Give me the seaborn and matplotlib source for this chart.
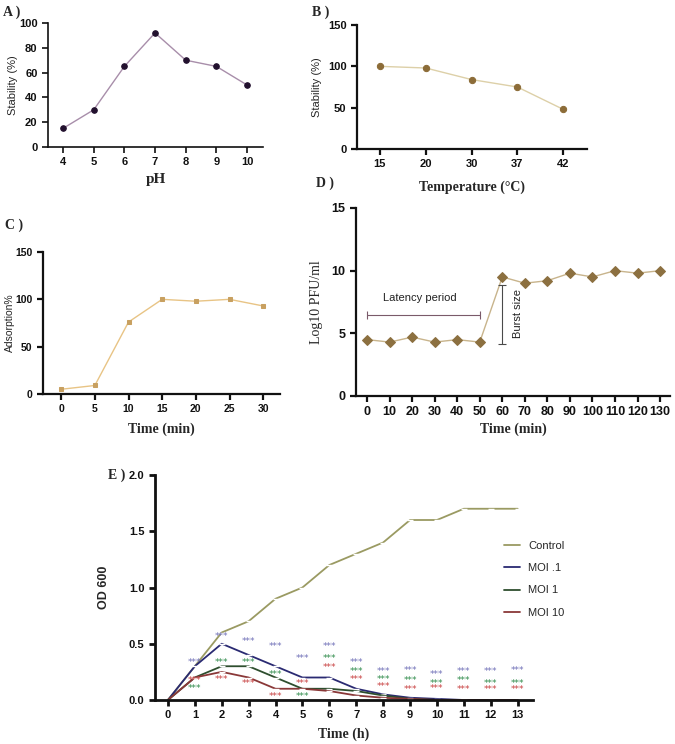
import matplotlib
matplotlib.use("Agg")
import matplotlib.pyplot as plt
import seaborn as sns
import pandas as pd

# ---------------- data ----------------
ph = [4, 5, 6, 7, 8, 9, 10]
ph_stability = [15, 30, 65, 92, 70, 65, 50]

temp_labels = ["15", "20", "30", "37", "42"]
temp_stability = [100, 98, 84, 75, 48]

ads_time = [0, 5, 10, 15, 20, 25, 30]
adsorption = [5, 9, 76, 100, 98, 100, 93]

growth_time = [0, 10, 20, 30, 40, 50, 60, 70, 80, 90, 100, 110, 120, 130]
log_pfu = [4.5, 4.3, 4.7, 4.3, 4.5, 4.3, 9.5, 9.0, 9.2, 9.8, 9.5, 10.0, 9.8, 10.0]

hours = list(range(14))
od_control = [0, 0.3, 0.6, 0.7, 0.9, 1.0, 1.2, 1.3, 1.4, 1.6, 1.6, 1.7, 1.7, 1.7]
od_moi01 = [0, 0.3, 0.5, 0.4, 0.3, 0.2, 0.2, 0.1, 0.05, 0.02, 0.01, 0.0, 0.0, 0.0]
od_moi1 = [0, 0.2, 0.3, 0.3, 0.2, 0.1, 0.1, 0.08, 0.04, 0.01, 0.0, 0.0, 0.0, 0.0]
od_moi10 = [0, 0.2, 0.25, 0.2, 0.1, 0.1, 0.08, 0.04, 0.02, 0.01, 0.0, 0.0, 0.0, 0.0]
series_names = ["Control", "MOI .1", "MOI 1", "MOI 10"]

# significance marks (***) positions
star_x = [1, 2, 3, 4, 5, 6, 7, 8, 9, 10, 11, 12, 13]
star_blue_y = [0.33, 0.565, 0.52, 0.48, 0.37, 0.48, 0.33, 0.25, 0.26, 0.23, 0.25, 0.25, 0.26]
star_green_y = [0.10, 0.33, 0.33, 0.23, 0.03, 0.37, 0.25, 0.18, 0.17, 0.15, 0.17, 0.15, 0.15]
star_red_y = [0.17, 0.18, 0.15, 0.03, 0.15, 0.29, 0.18, 0.12, 0.09, 0.10, 0.09, 0.09, 0.09]

# ---------------- style ----------------
sns.set_style("ticks")
plt.rcParams["font.family"] = ["Liberation Sans", "DejaVu Sans"]
SERIF = ["Liberation Serif", "DejaVu Serif"]

fig = plt.figure(figsize=(6.75, 7.44), dpi=100)
W, H = 675.0, 744.0


def add_ax(left, right, top, bottom):
    return fig.add_axes([left / W, 1 - bottom / H, (right - left) / W, (bottom - top) / H])


def style_ax(ax, lw=1.6, fs=8):
    sns.despine(ax=ax)
    for s in ("left", "bottom"):
        ax.spines[s].set_linewidth(lw)
        ax.spines[s].set_color("#111111")
    ax.tick_params(width=lw, length=4, labelsize=fs, colors="#111111")
    for lab in ax.get_xticklabels() + ax.get_yticklabels():
        lab.set_fontweight("bold")


# ---- A ----
axA = add_ax(48, 263, 23, 147)
sns.lineplot(x=ph, y=ph_stability, ax=axA, color="#a88eaa", linewidth=1.0,
             marker="o", markersize=4, markerfacecolor="#22102e", markeredgecolor="#22102e")
axA.set_xlim(3.51, 10.52)
axA.set_ylim(0, 100)
axA.set_xticks(ph)
axA.set_yticks([0, 20, 40, 60, 80, 100])
axA.set_ylabel("Stability (%)", fontsize=8, labelpad=1)
axA.set_xlabel("pH", fontsize=11, fontweight="bold", family=SERIF, labelpad=4)
style_ax(axA, lw=1.2)
fig.text(3 / W, 1 - 12 / H, "A )", fontsize=10, fontweight="bold", family=SERIF, va="center")

# ---- B ----
axB = add_ax(357, 587, 25, 149)
posB = list(range(len(temp_labels)))
sns.lineplot(x=posB, y=temp_stability, ax=axB, color="#ddd0a8", linewidth=1.0,
             marker="o", markersize=4.5, markerfacecolor="#8c6c38", markeredgecolor="#8c6c38")
axB.set_xlim(-0.5, 4.52)
axB.set_ylim(0, 150)
axB.set_xticks(posB)
axB.set_xticklabels(temp_labels)
axB.set_yticks([0, 50, 100, 150])
axB.set_ylabel("Stability (%)", fontsize=8)
axB.set_xlabel("Temperature (°C)", fontsize=10, fontweight="bold", family=SERIF, labelpad=8)
style_ax(axB, lw=1.6)
fig.text(312 / W, 1 - 12 / H, "B )", fontsize=10, fontweight="bold", family=SERIF, va="center")

# ---- C ----
axC = add_ax(43, 280, 252, 394)
sns.lineplot(x=ads_time, y=adsorption, ax=axC, color="#e8c485", linewidth=1.0,
             marker="s", markersize=2.5, markerfacecolor="#c8a060", markeredgecolor="#c8a060")
axC.set_xlim(-2.7, 32.5)
axC.set_ylim(0, 150)
axC.set_xticks(ads_time)
axC.set_yticks([0, 50, 100, 150])
axC.set_ylabel("Adsorption%", fontsize=7.5, labelpad=0)
axC.set_xlabel("Time (min)", fontsize=10, fontweight="bold", family=SERIF, labelpad=6)
style_ax(axC, lw=1.6, fs=7.5)
fig.text(5 / W, 1 - 225 / H, "C )", fontsize=10, fontweight="bold", family=SERIF, va="center")

# ---- D ----
axD = add_ax(356, 670, 208, 396)
sns.lineplot(x=growth_time, y=log_pfu, ax=axD, color="#c8b48c", linewidth=1.0,
             marker="D", markersize=5, markerfacecolor="#8c7040", markeredgecolor="#8c7040")
axD.set_xlim(-4.9, 134.4)
axD.set_ylim(0, 15)
axD.set_xticks(growth_time)
axD.set_yticks([0, 5, 10, 15])
axD.set_ylabel("Log10 PFU/ml", fontsize=10, family=SERIF, labelpad=6)
axD.set_xlabel("Time (min)", fontsize=10, fontweight="bold", family=SERIF, labelpad=3)
style_ax(axD, lw=1.6, fs=9)
# latency period bracket
axD.errorbar([25], [6.46], xerr=[[25], [25]], color="#7a5a6a", linewidth=0.8, capsize=3, capthick=0.8)
axD.text(23.5, 7.8, "Latency period", fontsize=8, ha="center", va="center", color="#222222")
# burst size bracket
axD.errorbar([60], [6.5], yerr=[[2.35], [2.36]], color="#4a4a4a", linewidth=0.8, capsize=3, capthick=0.8)
axD.text(67, 6.6, "Burst size", fontsize=8, rotation=90, ha="center", va="center", color="#222222")
fig.text(316 / W, 1 - 183 / H, "D )", fontsize=10, fontweight="bold", family=SERIF, va="center")

# ---- E ----
axE = add_ax(155, 533, 475, 700)
dfE = pd.DataFrame({
    "Time": hours * 4,
    "OD": od_control + od_moi01 + od_moi1 + od_moi10,
    "Group": [n for n in series_names for _ in hours],
})
palE = {"Control": "#9a9a62", "MOI .1": "#2a2a72", "MOI 1": "#2e4e2e", "MOI 10": "#8a3838"}
sns.lineplot(data=dfE, x="Time", y="OD", hue="Group", palette=palE, ax=axE,
             linewidth=1.3, marker="_", markersize=5, markeredgewidth=1.0)
axE.set_xlim(-0.48, 13.57)
axE.set_ylim(0, 2.0)
axE.set_xticks(hours)
axE.set_yticks([0.0, 0.5, 1.0, 1.5, 2.0])
axE.set_yticklabels(["0.0", "0.5", "1.0", "1.5", "2.0"])
axE.set_ylabel("OD 600", fontsize=9, fontweight="bold", labelpad=14)
axE.set_xlabel("Time (h)", fontsize=10, fontweight="bold", family=SERIF, labelpad=5)
style_ax(axE, lw=2.0, fs=8)
STAR_FONT = ["DejaVu Sans"]
for x, yb, yg, yr in zip(star_x, star_blue_y, star_green_y, star_red_y):
    axE.text(x, yb, "***", color="#7070b8", fontsize=6.5, family=STAR_FONT, ha="center", va="center")
    axE.text(x, yg, "***", color="#2e8b4a", fontsize=6.5, family=STAR_FONT, ha="center", va="center")
    axE.text(x, yr, "***", color="#c84040", fontsize=6.5, family=STAR_FONT, ha="center", va="center")
handles, labels = axE.get_legend_handles_labels()
for h in handles:
    h.set_marker("")
axE.legend(handles, labels, frameon=False, fontsize=8, loc="upper left",
           bbox_to_anchor=(494 / W, 1 - 531 / H), bbox_transform=fig.transFigure,
           handlelength=1.4, labelspacing=1.1, handletextpad=0.8)
fig.text(108 / W, 1 - 475 / H, "E )", fontsize=10, fontweight="bold", family=SERIF, va="center")

fig.savefig("out.png", dpi=100)
